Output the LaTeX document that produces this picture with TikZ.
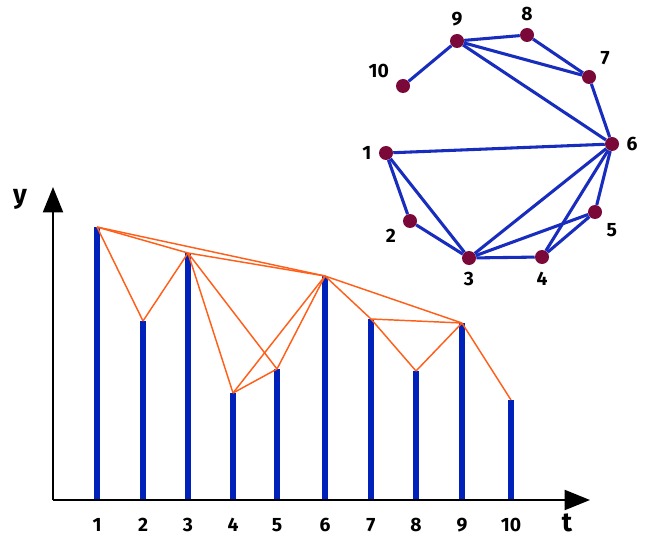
\documentclass[tikz,border=0pt]{standalone}
\usepackage{fontspec}
\setmainfont{Fira Sans}
\usetikzlibrary{arrows.meta}
\definecolor{barblue}{RGB}{0,34,187}
\definecolor{edgeblue}{RGB}{24,44,190}
\definecolor{visorange}{RGB}{255,95,25}
\definecolor{dotred}{RGB}{122,8,56}

\begin{document}
\begin{tikzpicture}
    [x=0.75pt, y=-0.75pt,
    bar/.style={draw=barblue, line width=4.4pt},
    vis/.style={draw=visorange, line width=1.1pt},
    link/.style={draw=edgeblue, line width=2.3pt},
    vertex/.style={circle, fill=dotred, inner sep=0pt, minimum size=10.5pt},
    num/.style={font=\bfseries\fontsize{14.5}{14.5}\selectfont},
    axislabel/.style={font=\bfseries\fontsize{20}{20}\selectfont}]
    \useasboundingbox (0,0) rectangle (645,538);

    % bars of the series
    \foreach \i/\xx/\yy in {1/97/227, 2/143/321, 3/188/253, 4/233/393, 5/277/369,
                            6/325/276, 7/371/319, 8/416/371, 9/462/323, 10/511/400}{
        \coordinate (a\i) at (\xx,500);
        \coordinate (b\i) at (\xx,\yy);
        \draw[bar] (a\i) -- (b\i);
        \node[num] (t\i) at (\xx,525) {\i};
    }

    % axes
    \coordinate (origin) at (53,500);
    \coordinate (ytip) at (53,187);
    \coordinate (ttip) at (590,500);
    \draw[line width=1.5pt, -{Triangle[length=19pt,width=15pt]}] (origin) -- (ytip);
    \draw[line width=1.5pt, -{Triangle[length=19pt,width=15pt]}] (origin) -- (ttip);
    \node[axislabel] (ylab) at (20,199) {y};
    \node[axislabel] (tlab) at (567,523) {t};

    % visibility lines
    \foreach \u/\v in {1/2, 1/3, 1/6, 2/3, 3/4, 3/5, 3/6, 4/5, 4/6, 5/6,
                       6/7, 6/9, 7/8, 7/9, 8/9, 9/10}
        \draw[vis] (b\u) -- (b\v);

    % the graph
    \foreach \i/\xx/\yy/\p in {1/386/153/180, 2/410/221/200, 3/469/258/-90,
                               4/542/257/-90, 5/595/212/-45, 6/612/144/0,
                               7/589/77/45, 8/527/35/90, 9/457/41/90, 10/403/86/162}
        \node[vertex, label={[num, label distance=2pt]\p:\i}] (g\i) at (\xx,\yy) {};

    \foreach \u/\v in {1/2, 1/3, 1/6, 2/3, 3/4, 3/5, 3/6, 4/5, 4/6, 5/6,
                       6/7, 6/9, 7/8, 7/9, 8/9, 9/10}
        \draw[link] (g\u) -- (g\v);

\end{tikzpicture}
\end{document}
